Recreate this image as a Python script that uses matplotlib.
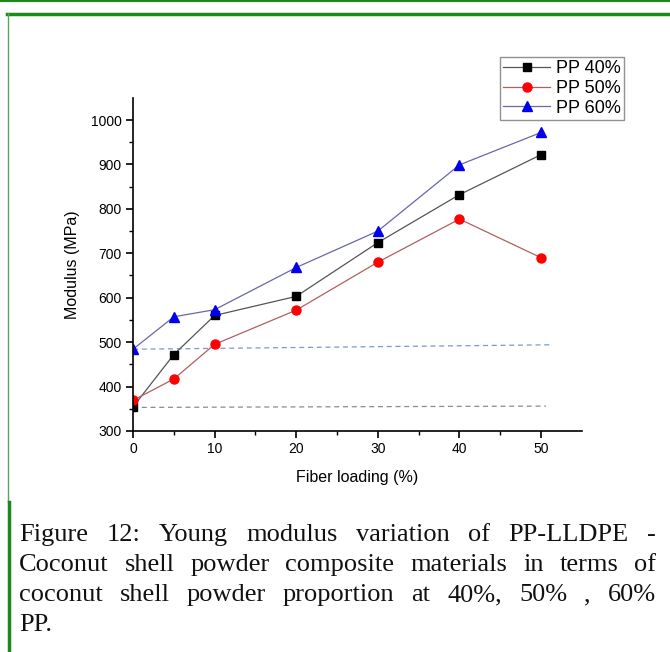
import matplotlib
matplotlib.use('Agg')
import matplotlib.pyplot as plt
from matplotlib.lines import Line2D

# fiber loading (%) and modulus (MPa)
loading = [0, 5, 10, 20, 30, 40, 50]
pp40 = [354, 472, 560, 603, 724, 832, 922]
pp50 = [369, 417, 495, 572, 680, 777, 690]
pp60 = [484, 557, 573, 668, 750, 899, 972]

# hand-drawn dashed guide lines (start / end)
guide_x = [0, 50.6]
guide40 = [353, 356]
guide_x60 = [0, 51.3]
guide60 = [484, 494]

caption = ["Figure 12: Young modulus variation of PP-LLDPE -",
           "Coconut shell powder composite materials in terms of",
           "coconut shell powder proportion at 40%, 50% , 60%",
           "PP."]

plt.rcParams['font.family'] = ['Liberation Sans', 'DejaVu Sans']

fig = plt.figure(figsize=(6.7, 6.52), dpi=100)
ax = fig.add_axes([0.1985, 0.339, 0.67, 0.511])

ax.plot(guide_x, guide40, ls=(0, (4, 3)), color='#8a8a9a', lw=0.9)
ax.plot(guide_x60, guide60, ls=(0, (4, 3)), color='#7a9acc', lw=0.9)

ax.plot(loading, pp40, color='#555555', lw=0.9, marker='s', ms=6,
        mfc='black', mec='black', label='PP 40%')
ax.plot(loading, pp50, color='#b06060', lw=0.9, marker='o', ms=6.5,
        mfc='#ff0000', mec='#ff0000', label='PP 50%')
ax.plot(loading, pp60, color='#6868a8', lw=0.9, marker='^', ms=7,
        mfc='#0000ee', mec='#0000ee', label='PP 60%')

ax.set_xlim(0, 55)
ax.set_ylim(300, 1050)
ax.set_xticks([0, 10, 20, 30, 40, 50])
ax.set_xticks(range(5, 55, 10), minor=True)
ax.set_yticks(range(300, 1001, 100))
ax.set_yticks(range(350, 1050, 100), minor=True)
for s in ['top', 'right']:
    ax.spines[s].set_visible(False)
for s in ['left', 'bottom']:
    ax.spines[s].set_linewidth(1.2)
ax.tick_params(which='major', length=5, width=1.2, labelsize=10, direction='out', pad=3)
ax.tick_params(which='minor', length=3, width=1.0, direction='out')
ax.set_xlabel('Fiber loading (%)', fontsize=11.5, labelpad=10)
ax.set_ylabel('Modulus (MPa)', fontsize=11.5, labelpad=8)

leg = fig.legend(loc='upper left', bbox_to_anchor=(0.746, 0.913), fontsize=13,
                 frameon=True, fancybox=False, edgecolor='#777777',
                 handlelength=2.6, handletextpad=0.3, borderpad=0.2,
                 labelspacing=0.15, borderaxespad=0)
leg.get_frame().set_linewidth(1.0)

# green page frame
green = '#1a8a1a'
fig.add_artist(Line2D([0, 1], [0.999, 0.999], color=green, lw=1.5, transform=fig.transFigure))
fig.add_artist(Line2D([0.0105, 1], [0.979, 0.979], color=green, lw=2.5, transform=fig.transFigure))
fig.add_artist(Line2D([0.0115, 0.0115], [0.98, 0.23], color='#5aa55a', lw=1.0, transform=fig.transFigure))
fig.add_artist(Line2D([0.0135, 0.0135], [0.23, 0.0], color=green, lw=2.5, transform=fig.transFigure))

# justified caption
fig.canvas.draw()
renderer = fig.canvas.get_renderer()
W, H = fig.bbox.width, fig.bbox.height
left_px, right_px = 19, 656
base0 = 541
step = 30
cap_font = dict(fontsize=19, family='Liberation Serif', color='#111111')
probe = fig.text(0, 0, 'a a', **cap_font)
probe1 = fig.text(0, 0, 'aa', **cap_font)
space = probe.get_window_extent(renderer).width - probe1.get_window_extent(renderer).width
probe.remove()
probe1.remove()
for i, line in enumerate(caption):
    y = 1 - (base0 + i * step) / H
    words = line.split(' ')
    texts = []
    widths = []
    for w in words:
        t = fig.text(0, y, w, va='baseline', ha='left', **cap_font)
        widths.append(t.get_window_extent(renderer).width)
        texts.append(t)
    if i == len(caption) - 1 or len(words) == 1:
        gap = space
    else:
        gap = (right_px - left_px - sum(widths)) / (len(words) - 1)
    x = left_px
    for t, w in zip(texts, widths):
        t.set_x(x / W)
        x += w + gap

fig.savefig('out.png', dpi=100)
